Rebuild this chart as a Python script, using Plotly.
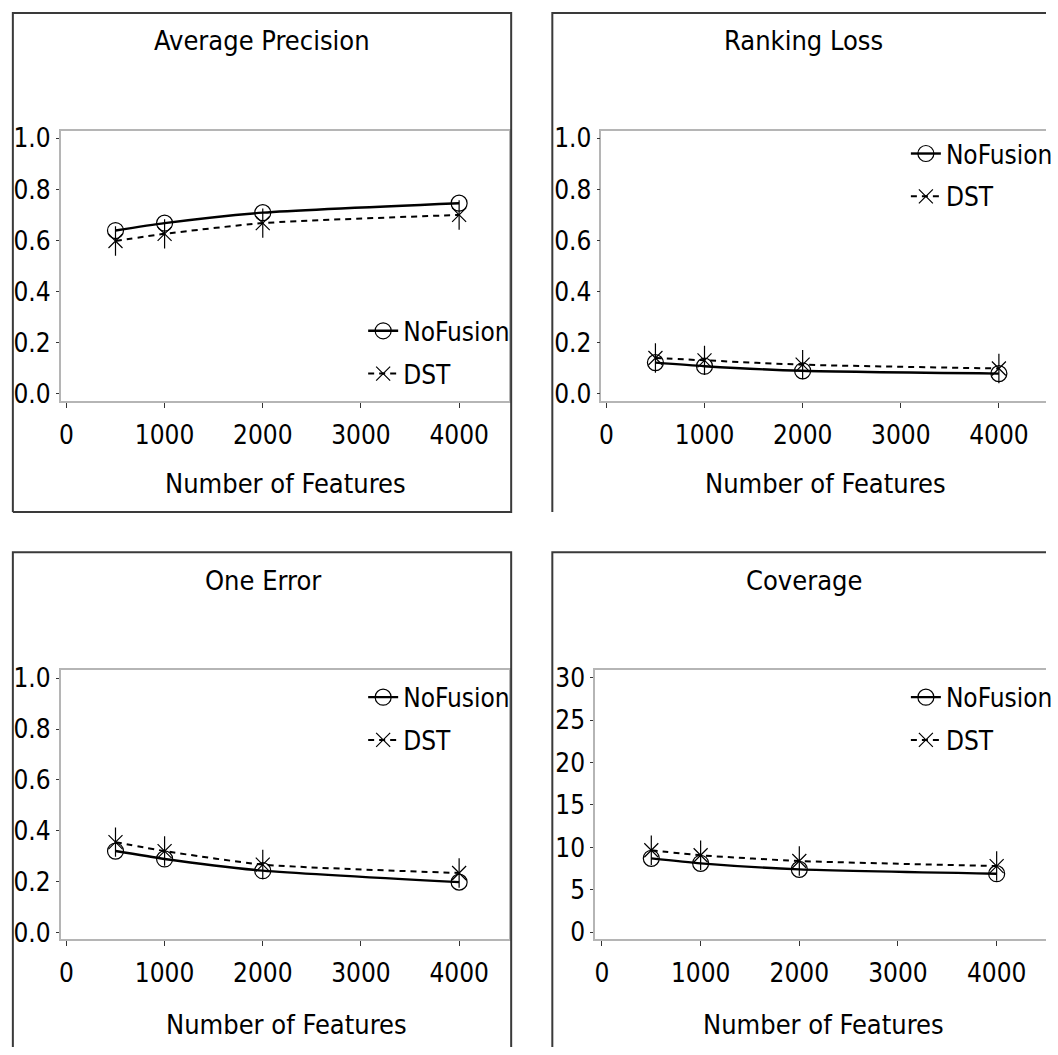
import plotly.graph_objects as go

# ---- data ---------------------------------------------------------------
features = [500, 1000, 2000, 4000]

avg_prec_nofusion = [0.639, 0.668, 0.709, 0.746]
avg_prec_dst = [0.598, 0.626, 0.668, 0.700]

rank_loss_nofusion = [0.122, 0.108, 0.090, 0.079]
rank_loss_dst = [0.140, 0.131, 0.114, 0.099]

one_err_nofusion = [0.321, 0.290, 0.244, 0.199]
one_err_dst = [0.356, 0.321, 0.268, 0.235]

coverage_nofusion = [8.71, 8.12, 7.41, 6.90]
coverage_dst = [9.66, 9.07, 8.40, 7.80]

panel_titles = ["Average Precision", "Ranking Loss", "One Error", "Coverage"]
x_title = "Number of Features"
x_ticks = [0, 1000, 2000, 3000, 4000]
prob_ticks = [0.0, 0.2, 0.4, 0.6, 0.8, 1.0]
coverage_ticks = [0, 5, 10, 15, 20, 25, 30]

# ---- layout helpers -----------------------------------------------------
W, H = 1058, 1055
FONT = "Liberation Sans Narrow, Arial Narrow, DejaVu Sans Condensed, sans-serif"
FS = 26


def px_x(p):
    return p / W


def px_y(p):
    return 1 - p / H


# pixel boxes of each plotting area: (left, top, right, bottom)
areas = [
    (59.3, 125.3, 514.0, 399.0),
    (607.4, 125.3, 1058.0, 399.0),
    (59.3, 672.5, 514.0, 945.8),
    (601.0, 672.5, 1058.0, 945.8),
]
right_edge_visible = [True, False, True, False]
x_ranges = [[-60, 4510], [-51, 4480], [-60, 4510], [-70, 4500]]
y_ranges = [[-0.028, 1.027], [-0.028, 1.027], [-0.026, 1.0305], [-0.85, 30.87]]
y_ticks = [prob_ticks, prob_ticks, prob_ticks, coverage_ticks]
y_fmt = [".1f", ".1f", ".1f", "d"]

series = [
    (avg_prec_nofusion, avg_prec_dst),
    (rank_loss_nofusion, rank_loss_dst),
    (one_err_nofusion, one_err_dst),
    (coverage_nofusion, coverage_dst),
]

# legend anchor (left of symbol, centre of first row) in pixels
legend_pos = [(366, 332), (916, 152), (366, 704), (916, 704)]

fig = go.Figure()

for i, (nofusion, dst) in enumerate(series):
    ax = "" if i == 0 else str(i + 1)
    xa, ya = "x" + ax, "y" + ax
    leg = "legend" if i == 0 else "legend" + str(i + 1)

    fig.add_trace(go.Scatter(
        x=features, y=nofusion, xaxis=xa, yaxis=ya,
        mode="lines+markers", name="NoFusion", legend=leg,
        legendgroup=f"nf{i}",
        line=dict(color="black", width=2.4, shape="spline", smoothing=0.6),
        marker=dict(symbol="circle-open", size=16, color="black",
                    line=dict(width=1.2, color="black")),
    ))
    fig.add_trace(go.Scatter(
        x=features, y=dst, xaxis=xa, yaxis=ya,
        mode="lines+markers", name="DST", legend=leg,
        legendgroup=f"dst{i}",
        line=dict(color="black", width=2, dash="6px,5px", shape="spline", smoothing=0.6),
        marker=dict(symbol="x-thin-open", size=14, color="black",
                    line=dict(width=1.2, color="black")),
    ))
    # vertical stroke completing the asterisk marker
    fig.add_trace(go.Scatter(
        x=features, y=dst, xaxis=xa, yaxis=ya,
        mode="markers", showlegend=False, legendgroup=f"dst{i}",
        marker=dict(symbol="line-ns-open", size=21, color="black",
                    line=dict(width=1.2, color="black")),
    ))

    left, top, right, bottom = areas[i]
    fig.layout["xaxis" + ax] = dict(
        domain=[px_x(left), px_x(right)], anchor=ya, range=x_ranges[i],
        tickvals=x_ticks, ticks="outside", ticklen=5, tickwidth=1.3, tickcolor="#333",
        showline=True, mirror=True, linecolor="#b5b5b5", linewidth=1.5,
        showgrid=False, zeroline=False, ticklabelstandoff=5,
        tickfont=dict(family=FONT, size=FS, color="black"),
    )
    fig.layout["yaxis" + ax] = dict(
        domain=[px_y(bottom), px_y(top)], anchor=xa, range=y_ranges[i],
        tickvals=y_ticks[i], tickformat=y_fmt[i],
        ticks="outside", ticklen=3, tickwidth=1.3, tickcolor="#333",
        showline=True, mirror=right_edge_visible[i],
        linecolor="#b5b5b5", linewidth=1.5,
        showgrid=False, zeroline=False,
        tickfont=dict(family=FONT, size=FS, color="black"),
    )

    lx, ly = legend_pos[i]
    fig.layout[leg] = dict(
        x=px_x(lx), y=px_y(ly - 28), xanchor="left", yanchor="top",
        bgcolor="rgba(0,0,0,0)", borderwidth=0, tracegroupgap=6,
        font=dict(family=FONT, size=FS, color="black"),
        itemwidth=30,
    )

# panel frames (only the sides that fall inside the page), titles, x titles
frame_paths = [
    [(11, 511.7), (11, 5), (516, 5), (516, 511.7), (11, 511.7)],
    [(557.7, 511.7), (557.7, 5), (1058, 5)],
    [(516, 1055), (516, 552.7), (11, 552.7), (11, 1055)],
    [(557.7, 1055), (557.7, 552.7), (1058, 552.7)],
]
title_pos = [(263.5, 33), (812, 33), (265, 581), (813, 581)]
xtitle_pos = [(287, 483), (835, 483), (288, 1032), (833, 1032)]

for i in range(4):
    pts = frame_paths[i]
    path = "M " + " L ".join(f"{px_x(x):.5f},{px_y(y):.5f}" for x, y in pts)
    fig.add_shape(type="path", xref="paper", yref="paper", path=path,
                  line=dict(color="#3a3a3a", width=2))
    tx, ty = title_pos[i]
    fig.add_annotation(text=panel_titles[i], xref="paper", yref="paper",
                       x=px_x(tx), y=px_y(ty), showarrow=False,
                       xanchor="center", yanchor="middle",
                       font=dict(family=FONT, size=FS + 1, color="black"))
    ax_x, ax_y = xtitle_pos[i]
    fig.add_annotation(text=x_title, xref="paper", yref="paper",
                       x=px_x(ax_x), y=px_y(ax_y), showarrow=False,
                       xanchor="center", yanchor="middle",
                       font=dict(family=FONT, size=FS + 1, color="black"))

fig.update_layout(
    width=W, height=H,
    margin=dict(l=0, r=0, t=0, b=0),
    paper_bgcolor="white", plot_bgcolor="white",
    font=dict(family=FONT, size=FS, color="black"),
)

fig.write_html("out.html")
